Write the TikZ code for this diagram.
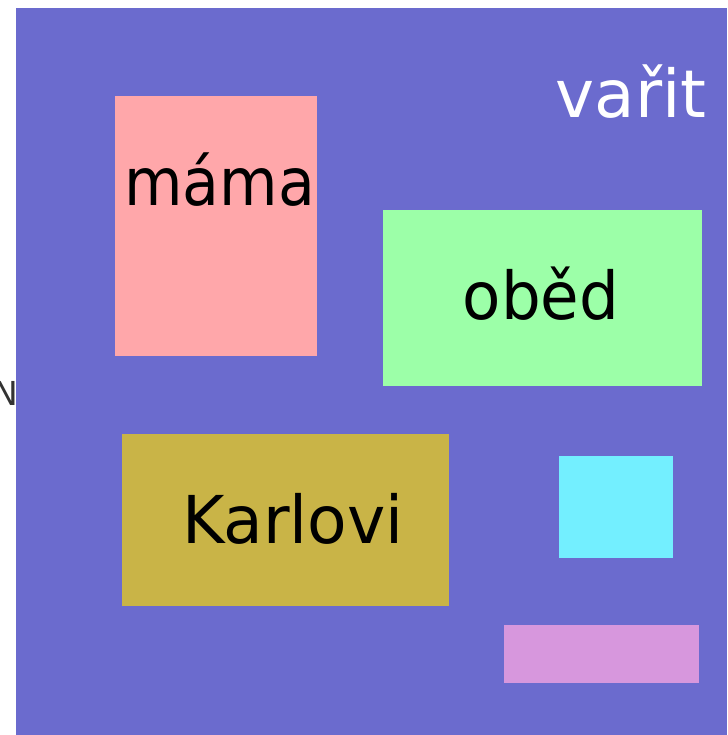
\documentclass[tikz,border=0pt]{standalone}
\usepackage{fontspec}
\setmainfont{DejaVu Sans}
\definecolor{bgblue}{HTML}{6B6BCE}
\definecolor{pinkc}{HTML}{FFA7AA}
\definecolor{greenc}{HTML}{9CFFA8}
\definecolor{olivec}{HTML}{C9B447}
\definecolor{cyanc}{HTML}{73EFFF}
\definecolor{lilacc}{HTML}{D797DD}
\definecolor{labgray}{HTML}{333333}
\tikzset{
  box/.style={draw=none, inner sep=0pt, outer sep=0pt, rectangle},
  bigtext/.style={inner sep=0pt, anchor=base, font=\fontsize{66}{66}\selectfont},
}
\begin{document}
\begin{tikzpicture}[x=1pt,y=-1pt]
\useasboundingbox (0,0) rectangle (727,735);
\node[inner sep=0pt, anchor=base east, text=labgray, font=\fontsize{33}{33}\selectfont] (nlab) at (18.5,405.7) {N};
\fill[bgblue] (16,8) rectangle (727,735);
\node[box, fill=pinkc, anchor=north west, minimum width=202pt, minimum height=260pt] (mamabox) at (115,96) {};
\node[box, fill=greenc, anchor=north west, minimum width=319pt, minimum height=176pt] (obedbox) at (383,210) {};
\node[box, fill=olivec, anchor=north west, minimum width=327pt, minimum height=172pt] (karlbox) at (122,434) {};
\node[box, fill=cyanc, anchor=north west, minimum width=114pt, minimum height=102pt] (cyanbox) at (559,456) {};
\node[box, fill=lilacc, anchor=north west, minimum width=195pt, minimum height=58pt] (lilacbox) at (504,625) {};
\node[bigtext] (mama) at (219.5,205.7) {\scalebox{0.91}[1]{máma}};
\node[bigtext] (obed) at (541,319.3) {\scalebox{0.95}[1]{oběd}};
\node[bigtext] (karl) at (293,543.7) {\scalebox{0.98}[1]{Karlovi}};
\node[bigtext, text=white] (varit) at (631,117.3) {vařit};
\end{tikzpicture}
\end{document}
